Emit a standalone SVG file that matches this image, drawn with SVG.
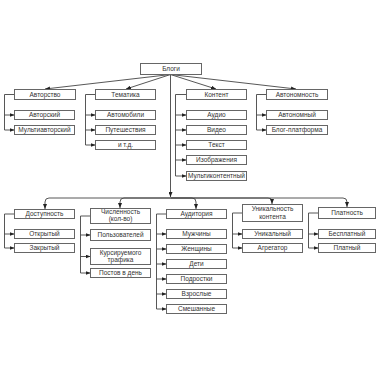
<svg xmlns="http://www.w3.org/2000/svg" width="380" height="380" viewBox="0 0 380 380">
<defs>
<marker id="ah" markerUnits="userSpaceOnUse" markerWidth="5" markerHeight="4" refX="5" refY="2" orient="auto">
<path d="M0,0 L5,2 L0,4 z" fill="#222"/>
</marker>
<style>
rect{fill:#fff;stroke:#666;stroke-width:1}
text{font-family:"Liberation Sans",Arial,sans-serif;font-size:6.5px;fill:#333;text-anchor:middle}
.c path{fill:none;stroke:#444;stroke-width:0.9}
.c .a{marker-end:url(#ah)}
</style>
</defs>
<rect x="0" y="0" width="380" height="380" style="fill:#fff;stroke:none"/>
<g class="c" id="connectors">
<path class="a" d="M170.5,74.5 L45,89"/>
<path class="a" d="M170.5,74.5 L126,89"/>
<path class="a" d="M170.5,74.5 L216,89"/>
<path class="a" d="M170.5,74.5 L296,89"/>
<path class="a" d="M170.5,74.5 V197"/>
<path class="a" d="M170.5,198 H49 Q45,198 45,202 V209"/>
<path class="a" d="M170.5,198 H124 Q120,198 120,202 V208"/>
<path class="a" d="M170.5,198 H192 Q196,198 196,202 V209"/>
<path class="a" d="M170.5,198 H268 Q272,198 272,201 V204"/>
<path class="a" d="M170.5,198 H343 Q347,198 347,202 V207"/>
<path d="M14.5,94.5 H4.5 V130"/>
<path class="a" d="M4.5,115 H14.5"/>
<path class="a" d="M4.5,130 H14.5"/>
<path d="M95.5,94.5 H85.5 V145"/>
<path class="a" d="M85.5,115 H95.5"/>
<path class="a" d="M85.5,130 H95.5"/>
<path class="a" d="M85.5,145 H95.5"/>
<path d="M186.5,94.5 H175.5 V176"/>
<path class="a" d="M175.5,115 H186.5"/>
<path class="a" d="M175.5,130 H186.5"/>
<path class="a" d="M175.5,145 H186.5"/>
<path class="a" d="M175.5,160 H186.5"/>
<path class="a" d="M175.5,176 H186.5"/>
<path d="M266.5,94.5 H256.5 V130"/>
<path class="a" d="M256.5,115 H266.5"/>
<path class="a" d="M256.5,130 H266.5"/>
<path d="M14.5,214 H4.5 V248"/>
<path class="a" d="M4.5,234 H14.5"/>
<path class="a" d="M4.5,248 H14.5"/>
<path d="M90.5,216 H80.5 V273"/>
<path class="a" d="M80.5,235 H90.5"/>
<path class="a" d="M80.5,256.5 H90.5"/>
<path class="a" d="M80.5,273 H90.5"/>
<path d="M166.5,214 H156.5 V309"/>
<path class="a" d="M156.5,234 H166.5"/>
<path class="a" d="M156.5,249 H166.5"/>
<path class="a" d="M156.5,264 H166.5"/>
<path class="a" d="M156.5,279 H166.5"/>
<path class="a" d="M156.5,294 H166.5"/>
<path class="a" d="M156.5,309 H166.5"/>
<path d="M242.5,213 H232.5 V248"/>
<path class="a" d="M232.5,234 H242.5"/>
<path class="a" d="M232.5,248 H242.5"/>
<path d="M318.5,213 H308.5 V248"/>
<path class="a" d="M308.5,234 H318.5"/>
<path class="a" d="M308.5,248 H318.5"/>
</g>
<g id="blogi"><rect x="140.5" y="63.5" width="61" height="11"/><text x="171" y="71.3">Блоги</text></g>
<g id="avtorstvo"><rect x="14.5" y="89.5" width="61" height="10"/><text x="45" y="96.8">Авторство</text></g>
<g id="avtorskiy"><rect x="14.5" y="110.5" width="60" height="9"/><text x="44.5" y="117.3">Авторский</text></g>
<g id="multiavtorskiy"><rect x="14.5" y="125.5" width="60" height="9"/><text x="44.5" y="132.3">Мультиавторский</text></g>
<g id="tematika"><rect x="95.5" y="89.5" width="60" height="10"/><text x="125.5" y="96.8">Тематика</text></g>
<g id="avtomobili"><rect x="95.5" y="110.5" width="60" height="9"/><text x="125.5" y="117.3">Автомобили</text></g>
<g id="puteshestviya"><rect x="95.5" y="125.5" width="60" height="9"/><text x="125.5" y="132.3">Путешествия</text></g>
<g id="itd"><rect x="95.5" y="140.5" width="60" height="9"/><text x="125.5" y="147.3">и т.д.</text></g>
<g id="kontent"><rect x="186.5" y="89.5" width="60" height="10"/><text x="216.5" y="96.8">Контент</text></g>
<g id="audio"><rect x="186.5" y="110.5" width="60" height="9"/><text x="216.5" y="117.3">Аудио</text></g>
<g id="video"><rect x="186.5" y="125.5" width="60" height="9"/><text x="216.5" y="132.3">Видео</text></g>
<g id="tekst"><rect x="186.5" y="140.5" width="60" height="9"/><text x="216.5" y="147.3">Текст</text></g>
<g id="izobrazheniya"><rect x="186.5" y="155.5" width="60" height="9"/><text x="216.5" y="162.3">Изображения</text></g>
<g id="multikontentnyy"><rect x="186.5" y="171.5" width="60" height="9"/><text x="216.5" y="178.3">Мультиконтентный</text></g>
<g id="avtonomnost"><rect x="266.5" y="89.5" width="61" height="10"/><text x="297" y="96.8">Автономность</text></g>
<g id="avtonomnyy"><rect x="266.5" y="110.5" width="61" height="9"/><text x="297" y="117.3">Автономный</text></g>
<g id="blog-platforma"><rect x="266.5" y="125.5" width="61" height="9"/><text x="297" y="132.3">Блог-платформа</text></g>
<g id="dostupnost"><rect x="14.5" y="209.5" width="60" height="9"/><text x="44.5" y="216.3">Доступность</text></g>
<g id="otkrytyy"><rect x="14.5" y="229.5" width="60" height="9"/><text x="44.5" y="236.3">Открытый</text></g>
<g id="zakrytyy"><rect x="14.5" y="243.5" width="60" height="9"/><text x="44.5" y="250.3">Закрытый</text></g>
<g id="chislennost"><rect x="90.5" y="208.5" width="60" height="15"/><text x="120.5" y="214.2">Численность</text><text x="120.5" y="221.4">(кол-во)</text></g>
<g id="polzovateley"><rect x="90.5" y="229.5" width="60" height="11"/><text x="120.5" y="237.3">Пользователей</text></g>
<g id="trafika"><rect x="90.5" y="248.5" width="60" height="16"/><text x="120.5" y="254.6">Курсируемого</text><text x="120.5" y="262">трафика</text></g>
<g id="postov"><rect x="90.5" y="268.5" width="60" height="9"/><text x="120.5" y="275.3">Постов в день</text></g>
<g id="auditoriya"><rect x="166.5" y="209.5" width="60" height="9"/><text x="196.5" y="216.3">Аудитория</text></g>
<g id="muzhchiny"><rect x="166.5" y="229.5" width="60" height="9"/><text x="196.5" y="236.3">Мужчины</text></g>
<g id="zhenshchiny"><rect x="166.5" y="244.5" width="60" height="9"/><text x="196.5" y="251.3">Женщины</text></g>
<g id="deti"><rect x="166.5" y="259.5" width="60" height="9"/><text x="196.5" y="266.3">Дети</text></g>
<g id="podrostki"><rect x="166.5" y="274.5" width="60" height="9"/><text x="196.5" y="281.3">Подростки</text></g>
<g id="vzroslye"><rect x="166.5" y="289.5" width="60" height="9"/><text x="196.5" y="296.3">Взрослые</text></g>
<g id="smeshannye"><rect x="166.5" y="304.5" width="60" height="9"/><text x="196.5" y="311.3">Смешанные</text></g>
<g id="unikalnost"><rect x="242.5" y="204.5" width="60" height="17"/><text x="272.5" y="211">Уникальность</text><text x="272.5" y="218.6">контента</text></g>
<g id="unikalnyy"><rect x="242.5" y="229.5" width="60" height="9"/><text x="272.5" y="236.3">Уникальный</text></g>
<g id="agregator"><rect x="242.5" y="243.5" width="60" height="9"/><text x="272.5" y="250.3">Агрегатор</text></g>
<g id="platnost"><rect x="318.5" y="207.5" width="57" height="11"/><text x="347" y="215.3">Платность</text></g>
<g id="besplatnyy"><rect x="318.5" y="229.5" width="57" height="9"/><text x="347" y="236.3">Бесплатный</text></g>
<g id="platnyy"><rect x="318.5" y="243.5" width="57" height="9"/><text x="347" y="250.3">Платный</text></g>
</svg>
